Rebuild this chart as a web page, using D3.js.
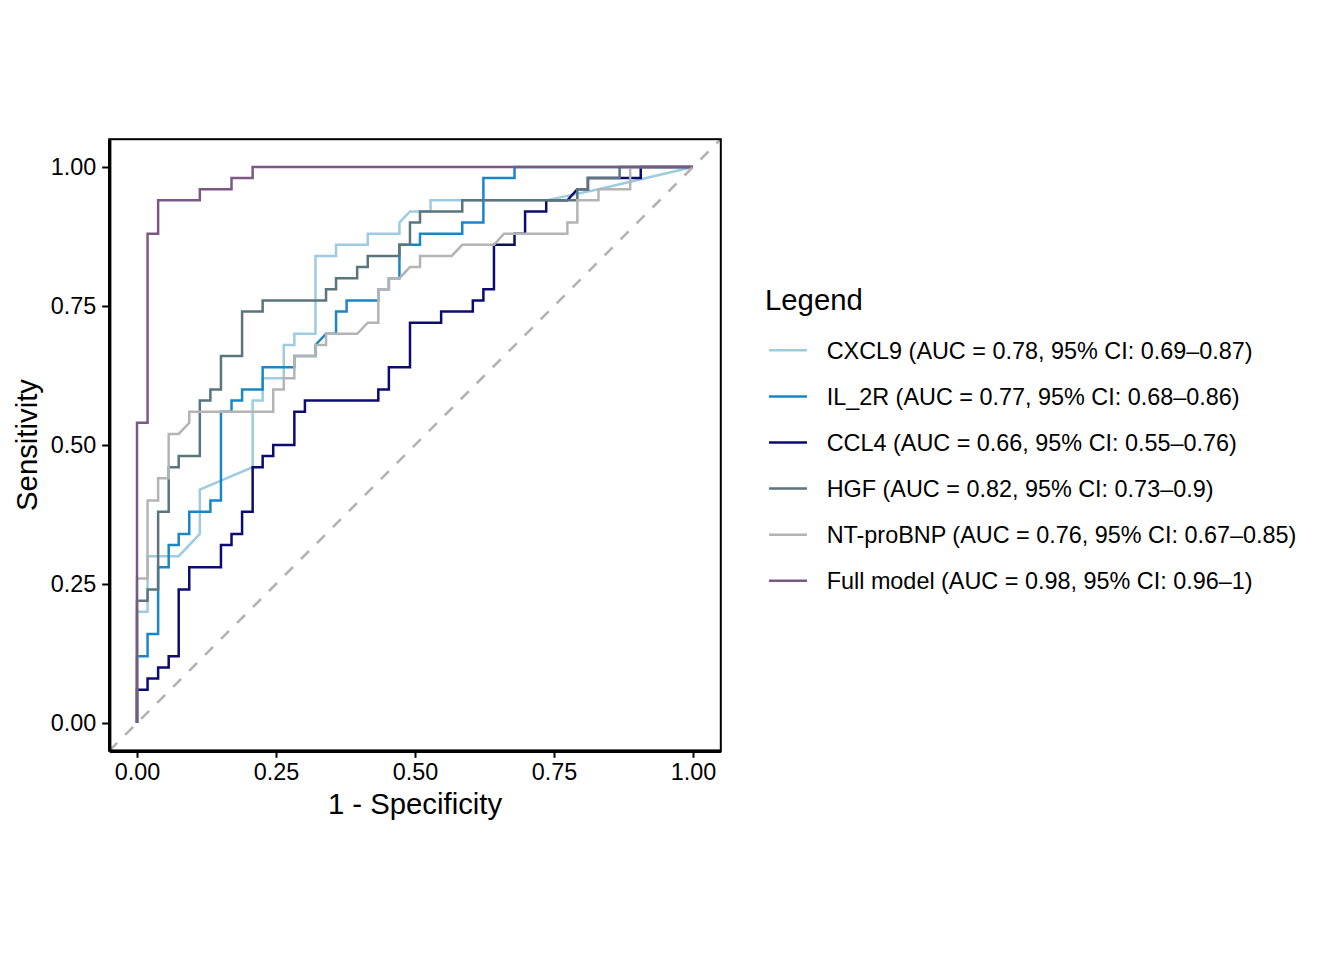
<!DOCTYPE html>
<html>
<head>
<meta charset="utf-8">
<script src="https://cdn.jsdelivr.net/npm/d3@7"></script>
<style>
    body { margin: 0; background: #ffffff; }
    text { font-family: "Liberation Sans", Arial, Helvetica, sans-serif; }
</style>
</head>
<body>
<svg id="SVG_CONTAINER" width="1344" height="960"></svg>
<script>
//** DATA *****************************************
//series names and legend labels, in drawing order
const seriesNames = ["CXCL9", "IL_2R", "CCL4", "HGF", "NT-proBNP", "Full model"];
const legendLabels = [
    "CXCL9 (AUC = 0.78, 95% CI: 0.69\u20130.87)",
    "IL_2R (AUC = 0.77, 95% CI: 0.68\u20130.86)",
    "CCL4 (AUC = 0.66, 95% CI: 0.55\u20130.76)",
    "HGF (AUC = 0.82, 95% CI: 0.73\u20130.9)",
    "NT-proBNP (AUC = 0.76, 95% CI: 0.67\u20130.85)",
    "Full model (AUC = 0.98, 95% CI: 0.96\u20131)"
];
const tickValues = [0, 0.25, 0.5, 0.75, 1];

//ROC points [1 - specificity, sensitivity]
const rocCXCL9 = [[0,0],[0,0.20],[0.019,0.20],[0.019,0.30],[0.075,0.30],[0.113,0.34],[0.113,0.42],[0.208,0.46],
    [0.208,0.58],[0.226,0.58],[0.226,0.62],[0.264,0.62],[0.264,0.68],[0.283,0.68],[0.283,0.70],[0.321,0.70],
    [0.321,0.84],[0.358,0.84],[0.358,0.86],[0.415,0.86],[0.415,0.88],[0.472,0.88],[0.472,0.90],[0.491,0.92],
    [0.528,0.92],[0.528,0.94],[0.736,0.94],[0.830,0.96],[1,1]];

const rocIL2R = [[0,0],[0,0.12],[0.019,0.12],[0.019,0.16],[0.038,0.16],[0.038,0.28],[0.057,0.28],[0.057,0.32],
    [0.075,0.32],[0.075,0.34],[0.094,0.34],[0.094,0.38],[0.132,0.38],[0.132,0.40],[0.151,0.40],[0.151,0.56],
    [0.170,0.56],[0.170,0.58],[0.189,0.58],[0.189,0.60],[0.226,0.60],[0.226,0.64],[0.283,0.64],[0.283,0.66],
    [0.321,0.66],[0.321,0.68],[0.340,0.70],[0.358,0.70],[0.358,0.74],[0.377,0.74],[0.377,0.76],[0.434,0.76],
    [0.434,0.78],[0.453,0.78],[0.453,0.80],[0.472,0.80],[0.472,0.86],[0.509,0.86],[0.509,0.88],[0.585,0.88],
    [0.585,0.90],[0.623,0.90],[0.623,0.98],[0.679,0.98],[0.679,1],[1,1]];

const rocCCL4 = [[0,0],[0,0.06],[0.019,0.06],[0.019,0.08],[0.038,0.08],[0.038,0.10],[0.057,0.10],[0.057,0.12],
    [0.075,0.12],[0.075,0.24],[0.094,0.24],[0.094,0.28],[0.151,0.28],[0.151,0.32],[0.170,0.32],[0.170,0.34],
    [0.189,0.34],[0.189,0.38],[0.208,0.38],[0.208,0.46],[0.226,0.46],[0.226,0.48],[0.245,0.48],[0.245,0.50],
    [0.283,0.50],[0.283,0.56],[0.302,0.56],[0.302,0.58],[0.434,0.58],[0.434,0.60],[0.453,0.60],[0.453,0.64],
    [0.491,0.64],[0.491,0.72],[0.547,0.72],[0.547,0.74],[0.604,0.74],[0.604,0.76],[0.623,0.76],[0.623,0.78],
    [0.642,0.78],[0.642,0.86],[0.679,0.86],[0.679,0.88],[0.698,0.88],[0.698,0.92],[0.736,0.92],[0.736,0.94],
    [0.774,0.94],[0.792,0.96],[0.811,0.96],[0.811,0.98],[0.906,0.98],[0.906,1],[1,1]];

const rocHGF = [[0,0],[0,0.22],[0.019,0.22],[0.019,0.24],[0.038,0.24],[0.038,0.38],[0.057,0.38],[0.057,0.46],
    [0.075,0.46],[0.075,0.48],[0.113,0.48],[0.113,0.58],[0.132,0.58],[0.132,0.60],[0.151,0.60],[0.151,0.66],
    [0.189,0.66],[0.189,0.74],[0.226,0.74],[0.226,0.76],[0.340,0.76],[0.340,0.78],[0.358,0.78],[0.358,0.80],
    [0.396,0.80],[0.396,0.82],[0.415,0.82],[0.415,0.84],[0.472,0.84],[0.472,0.86],[0.491,0.86],[0.491,0.90],
    [0.509,0.90],[0.509,0.92],[0.585,0.92],[0.585,0.94],[0.792,0.94],[0.792,0.96],[0.811,0.96],[0.811,0.98],
    [0.868,0.98],[0.868,1],[1,1]];

const rocNTproBNP = [[0,0],[0,0.26],[0.019,0.26],[0.019,0.40],[0.038,0.40],[0.038,0.44],[0.057,0.44],[0.057,0.52],
    [0.075,0.52],[0.094,0.54],[0.094,0.56],[0.245,0.56],[0.245,0.60],[0.264,0.60],[0.264,0.62],[0.283,0.62],
    [0.283,0.66],[0.321,0.66],[0.321,0.68],[0.340,0.68],[0.340,0.70],[0.396,0.70],[0.415,0.72],[0.434,0.72],
    [0.434,0.78],[0.453,0.78],[0.453,0.80],[0.472,0.80],[0.491,0.82],[0.509,0.82],[0.509,0.84],[0.566,0.84],
    [0.585,0.86],[0.642,0.86],[0.660,0.88],[0.774,0.88],[0.774,0.90],[0.792,0.90],[0.792,0.94],[0.830,0.94],
    [0.830,0.96],[0.887,0.96],[0.887,1],[1,1]];

const rocFullModel = [[0,0],[0,0.54],[0.019,0.54],[0.019,0.88],[0.038,0.88],[0.038,0.94],[0.113,0.94],
    [0.113,0.96],[0.170,0.96],[0.170,0.98],[0.208,0.98],[0.208,1],[1,1]];

const seriesColours = ["#9dcbe0", "#1b86c6", "#0b0b70", "#5a757e", "#b4b4b4", "#7b5883"];

//** LAYOUT *****************************************
const MARGIN = {
    "LEFT": 109.2,
    "RIGHT": 1344 - 720.8,
    "TOP": 139.2,
    "BOTTOM": 960 - 750.8,
};
const width = 1344,
    height = 960;
const tickFont = 23.4,
    titleFont = 29.3;

window.onload = function () {
    let svg = d3.select("#SVG_CONTAINER");
    rocChart(svg);
};

rocChart = function (svg) {
    let curves = [rocCXCL9, rocIL2R, rocCCL4, rocHGF, rocNTproBNP, rocFullModel];

    //** SCALES *****************************************
    //ggplot style 5% expansion either side
    let xScale = d3.scaleLinear()
        .domain([-0.05, 1.05])
        .range([MARGIN.LEFT, width - MARGIN.RIGHT]);
    let yScale = d3.scaleLinear()
        .domain([-0.05, 1.05])
        .range([height - MARGIN.BOTTOM, MARGIN.TOP]);

    let colourScale = d3.scaleOrdinal()
        .domain(seriesNames)
        .range(seriesColours);

    //** PANEL *****************************************
    svg.append("rect")
        .attr("width", width)
        .attr("height", height)
        .attr("fill", "#ffffff");

    //clip so the reference line stays inside the panel
    svg.append("defs").append("clipPath")
        .attr("id", "panel-clip")
        .append("rect")
        .attr("x", MARGIN.LEFT)
        .attr("y", MARGIN.TOP)
        .attr("width", width - MARGIN.LEFT - MARGIN.RIGHT)
        .attr("height", height - MARGIN.TOP - MARGIN.BOTTOM);

    let plot = svg.append("g").attr("clip-path", "url(#panel-clip)");

    //** CURVES *****************************************
    let line = d3.line()
        .x(d => xScale(d[0]))
        .y(d => yScale(d[1]));

    for (let i = 0; i < curves.length; i++) {
        plot.append("path")
            .datum(curves[i])
            .attr("class", "roc-" + i)
            .attr("d", line)
            .attr("fill", "none")
            .attr("stroke", colourScale(seriesNames[i]))
            .attr("stroke-width", 2.5)
            .attr("stroke-linejoin", "miter");
    }

    //chance line
    plot.append("line")
        .attr("x1", xScale(-0.05))
        .attr("y1", yScale(-0.05))
        .attr("x2", xScale(1.05))
        .attr("y2", yScale(1.05))
        .attr("stroke", "#b3b3b3")
        .attr("stroke-width", 2.6)
        .attr("stroke-dasharray", "11.3,11.3");

    //panel border
    svg.append("rect")
        .attr("x", MARGIN.LEFT)
        .attr("y", MARGIN.TOP)
        .attr("width", width - MARGIN.LEFT - MARGIN.RIGHT)
        .attr("height", height - MARGIN.TOP - MARGIN.BOTTOM)
        .attr("fill", "none")
        .attr("stroke", "#000000")
        .attr("stroke-width", 2);

    //** AXES *****************************************
    let xAxis = d3.axisBottom(xScale)
        .tickValues(tickValues)
        .tickFormat(d3.format(".2f"))
        .tickSizeInner(7)
        .tickSizeOuter(0)
        .tickPadding(6);
    let yAxis = d3.axisLeft(yScale)
        .tickValues(tickValues)
        .tickFormat(d3.format(".2f"))
        .tickSizeInner(7)
        .tickSizeOuter(0)
        .tickPadding(6);

    let gx = svg.append("g")
        .attr("transform", "translate(0," + (height - MARGIN.BOTTOM) + ")")
        .call(xAxis);
    let gy = svg.append("g")
        .attr("transform", "translate(" + MARGIN.LEFT + ",0)")
        .call(yAxis);

    [gx, gy].forEach(function (g) {
        g.select(".domain")
            .attr("stroke", "#000000")
            .attr("stroke-width", 3.4);
        g.selectAll(".tick line")
            .attr("stroke", "#000000")
            .attr("stroke-width", 2);
        g.selectAll(".tick text")
            .attr("fill", "#000000")
            .style("font-size", tickFont + "px")
            .style("font-family", "'Liberation Sans', Arial, sans-serif");
    });

    //axis titles
    svg.append("text")
        .attr("x", (MARGIN.LEFT + width - MARGIN.RIGHT) / 2)
        .attr("y", 814)
        .attr("text-anchor", "middle")
        .style("font-size", titleFont + "px")
        .text("1 - Specificity");

    svg.append("text")
        .attr("transform", "translate(37," + ((MARGIN.TOP + height - MARGIN.BOTTOM) / 2) + ") rotate(-90)")
        .attr("text-anchor", "middle")
        .style("font-size", titleFont + "px")
        .text("Sensitivity");

    //** LEGEND *****************************************
    let legendX = 765,
        legendTitleY = 310,
        firstRowY = 350.3,
        rowStep = 46.1;

    svg.append("text")
        .attr("x", legendX)
        .attr("y", legendTitleY)
        .style("font-size", titleFont + "px")
        .text("Legend");

    let rows = svg.append("g")
        .selectAll("g")
        .data(seriesNames)
        .enter()
        .append("g")
        .attr("transform", (d, i) => "translate(" + legendX + "," + (firstRowY + rowStep * i) + ")");

    rows.append("line")
        .attr("x1", 4)
        .attr("x2", 42)
        .attr("stroke", d => colourScale(d))
        .attr("stroke-width", 2.5);

    rows.append("text")
        .attr("x", 61.7)
        .attr("y", tickFont * 0.36)
        .style("font-size", tickFont + "px")
        .text((d, i) => legendLabels[i]);
};
</script>
</body>
</html>
